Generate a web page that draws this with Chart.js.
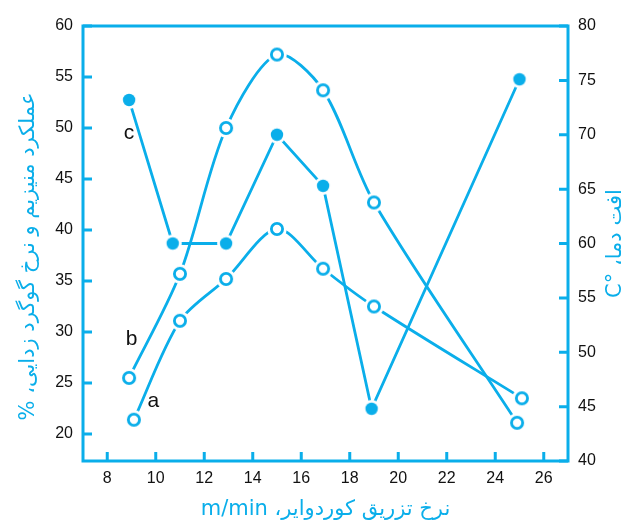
<!DOCTYPE html>
<html>
<head>
<meta charset="utf-8">
<script src="https://cdn.jsdelivr.net/npm/chart.js@4.4.1/dist/chart.umd.min.js"></script>
<style>
  body { margin: 0; background: #fff; }
</style>
</head>
<body>
<canvas id="chart" width="627" height="524" dir="rtl"></canvas>
<script>
// series a and b: left axis (%), series c: right axis (temperature drop)
const xA = [9.1, 11, 12.9, 15, 16.9, 19, 25.1];
const seriesA = [21.4, 31.1, 35.2, 40.1, 36.2, 32.5, 23.5];
const xB = [8.9, 11, 12.9, 15, 16.9, 19, 24.9];
const seriesB = [25.5, 35.7, 50, 57.2, 53.7, 42.7, 21.1];
const xC = [8.9, 10.7, 12.9, 15, 16.9, 18.9, 25];
const seriesC = [73.2, 60, 60, 70, 65.3, 44.8, 75.1];

const xTicks = [8, 10, 12, 14, 16, 18, 20, 22, 24, 26];
const leftTicks = [20, 25, 30, 35, 40, 45, 50, 55, 60];
const rightTicks = [40, 45, 50, 55, 60, 65, 70, 75, 80];

// series names written next to their first points
const seriesNames = ['a', 'b', 'c'];
const nameX = [9.9, 9.0, 8.9];
const nameY = [23.2, 29.3, 49.5];

const leftTitle = 'عملکرد منیزیم و نرخ گوگرد زدایی، %';
const rightTitle = 'افت دما، °C';
const bottomTitle = 'نرخ تزریق کوردوایر، m/min';

const blue = '#0AAEEA';

function toPoints(xs, ys) {
    return xs.map((x, i) => ({ x: x, y: ys[i] }));
}

// markers with a white halo so lines stop short of them
function makeMarker(open) {
    const c = document.createElement('canvas');
    c.width = 24; c.height = 24;
    const g = c.getContext('2d');
    g.fillStyle = '#fff';
    g.beginPath(); g.arc(12, 12, open ? 9.8 : 9, 0, Math.PI * 2); g.fill();
    g.beginPath();
    if (open) {
        g.arc(12, 12, 5.6, 0, Math.PI * 2);
        g.fillStyle = '#fff'; g.fill();
        g.lineWidth = 2.8; g.strokeStyle = blue; g.stroke();
    } else {
        g.arc(12, 12, 6.2, 0, Math.PI * 2);
        g.fillStyle = blue; g.fill();
    }
    return c;
}
const openMarker = makeMarker(true);
const fullMarker = makeMarker(false);

const framePlugin = {
    id: 'frame',
    afterDraw(chart) {
        const ctx = chart.ctx;
        const a = chart.chartArea;
        const sx = chart.scales.x, sy = chart.scales.y, sy2 = chart.scales.y2;
        ctx.save();
        ctx.strokeStyle = blue;
        ctx.lineWidth = 3;
        ctx.strokeRect(a.left, a.top, a.right - a.left, a.bottom - a.top);
        ctx.beginPath();
        xTicks.forEach(v => {
            const p = sx.getPixelForValue(v);
            ctx.moveTo(p, a.bottom); ctx.lineTo(p, a.bottom - 9);
        });
        leftTicks.forEach(v => {
            const p = sy.getPixelForValue(v);
            ctx.moveTo(a.left, p); ctx.lineTo(a.left + 9, p);
        });
        rightTicks.forEach(v => {
            const p = sy2.getPixelForValue(v);
            ctx.moveTo(a.right, p); ctx.lineTo(a.right - 9, p);
        });
        ctx.stroke();

        // series names
        ctx.fillStyle = '#111';
        ctx.font = '21px "Liberation Sans", Arial, sans-serif';
        ctx.textAlign = 'center';
        ctx.textBaseline = 'middle';
        ctx.direction = 'ltr';
        seriesNames.forEach((n, i) => {
            ctx.fillText(n, sx.getPixelForValue(nameX[i]), sy.getPixelForValue(nameY[i]));
        });

        // axis titles
        ctx.fillStyle = blue;
        ctx.direction = 'rtl';
        ctx.font = '21px "DejaVu Sans", "Noto Sans", sans-serif';
        const midY = (a.top + a.bottom) / 2;
        ctx.save();
        ctx.translate(29, midY + 13);
        ctx.rotate(-Math.PI / 2);
        ctx.fillText(leftTitle, 0, 0);
        ctx.restore();
        ctx.save();
        ctx.translate(616, midY);
        ctx.rotate(-Math.PI / 2);
        ctx.fillText(rightTitle, 0, 0);
        ctx.restore();
        ctx.fillText(bottomTitle, (a.left + a.right) / 2, 510);
        ctx.restore();
    }
};

const tickFont = { family: '"Liberation Sans", Arial, sans-serif', size: 16 };

new Chart(document.getElementById('chart').getContext('2d'), {
    type: 'line',
    data: {
        datasets: [
            {
                data: toPoints(xA, seriesA), yAxisID: 'y',
                borderColor: blue, borderWidth: 2.8, tension: 0.3,
                pointStyle: openMarker, pointRadius: 7
            },
            {
                data: toPoints(xB, seriesB), yAxisID: 'y',
                borderColor: blue, borderWidth: 2.8, tension: 0.3,
                pointStyle: openMarker, pointRadius: 7
            },
            {
                data: toPoints(xC, seriesC), yAxisID: 'y2',
                borderColor: blue, borderWidth: 2.8, tension: 0,
                pointStyle: fullMarker, pointRadius: 7
            }
        ]
    },
    options: {
        responsive: false,
        animation: false,
        devicePixelRatio: 1,
        layout: { padding: { top: 26, left: 0, right: 0, bottom: 0 } },
        plugins: { legend: { display: false }, tooltip: { enabled: false } },
        scales: {
            x: {
                type: 'linear', min: 7, max: 27,
                grid: { display: false }, border: { display: false },
                afterBuildTicks: s => { s.ticks = xTicks.map(v => ({ value: v })); },
                afterFit: s => { s.height = 63; },
                ticks: { color: '#111', font: tickFont, padding: 0, maxRotation: 0 }
            },
            y: {
                position: 'left', min: 17.35, max: 60,
                grid: { display: false }, border: { display: false },
                afterBuildTicks: s => { s.ticks = leftTicks.map(v => ({ value: v })); },
                afterFit: s => { s.width = 83; },
                ticks: { color: '#111', font: tickFont, padding: 2 }
            },
            y2: {
                position: 'right', min: 40, max: 80,
                grid: { display: false }, border: { display: false },
                afterBuildTicks: s => { s.ticks = rightTicks.map(v => ({ value: v })); },
                afterFit: s => { s.width = 59; },
                ticks: { color: '#111', font: tickFont, padding: 2 }
            }
        }
    },
    plugins: [framePlugin]
});
</script>
</body>
</html>
